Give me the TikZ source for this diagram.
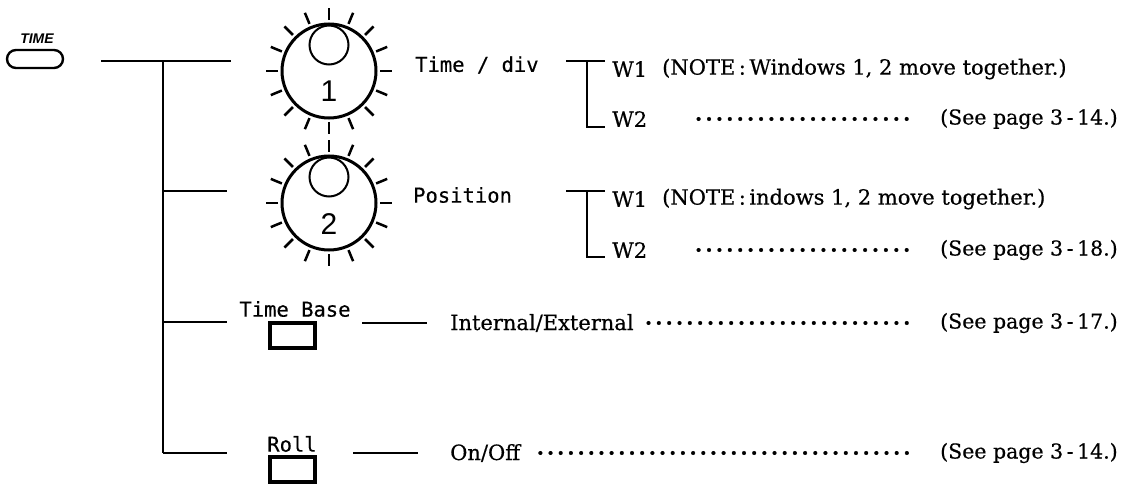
\documentclass[tikz,border=0pt]{standalone}
\usepackage{fontspec}
\setmainfont{DejaVu Serif}[FakeBold=0.5]
\newfontfamily\panelmono{DejaVu Sans Mono}[FakeBold=0.4]
\newfontfamily\panelsans{Liberation Sans}

% dotted leader of a given width
\newcommand{\leaderrow}[1]{\hbox to #1{\xleaders\hbox to 10pt{\hss\textbf{.}\hss}\hfill}}
% page reference with spaced dash
\newcommand{\seepage}[1]{(See page 3\kern3.5pt-\kern3.5pt#1.)}

\tikzset{
  wire/.style={line width=2pt},
  txt/.style={font=\fontsize{21}{24}\selectfont, inner sep=0pt, anchor=west},
  reftxt/.style={font=\fontsize{20.5}{24}\selectfont, inner sep=0pt, anchor=west},
  monotxt/.style={font=\panelmono\fontsize{20.5}{24}\selectfont, inner sep=0pt},
  digit/.style={font=\panelsans\fontsize{30}{32}\selectfont, inner sep=0pt},
  keycap/.style={draw, line width=3.2pt, minimum width=45pt, minimum height=25pt, inner sep=0pt},
  knob/.pic={
    \draw[line width=3pt] (0,0) circle[radius=47];
    \draw[line width=2pt] (0,-26) circle[radius=19.5];
    \foreach \a in {0,22.5,...,337.5}
      \draw[line width=2.5pt] (\a:51) -- (\a:63);
  }
}

\begin{document}
\begin{tikzpicture}[x=1pt,y=-1pt]
\useasboundingbox (0,0) rectangle (1122,484);

% TIME key
\node[font=\panelsans\bfseries\itshape\fontsize{14}{14}\selectfont, inner sep=0pt] (timelbl) at (37,39) {TIME};
\node[draw, rounded corners=9pt, line width=2.4pt, minimum width=56pt, minimum height=18pt, inner sep=0pt] (timekey) at (35,59) {};

% main trunk and branches
\coordinate (feed) at (101,61);
\coordinate (t1) at (163,61);
\coordinate (t2) at (163,191);
\coordinate (t3) at (163,322);
\coordinate (t4) at (163,453);
\coordinate (b1) at (231,61);
\coordinate (b2) at (227,191);
\coordinate (b3) at (227,322);
\coordinate (b4) at (227,453);
\draw[wire] (feed) -- (b1);
\draw[wire] (t1) -- (t4);
\draw[wire] (t2) -- (b2);
\draw[wire] (t3) -- (b3);
\draw[wire] (t4) -- (b4);

% knob 1
\coordinate (k1) at (329,71);
\pic at (k1) {knob};
\node[digit] (k1num) at (329,91) {1};
\node[monotxt, anchor=west] (tdiv) at (415,65) {Time / div};

\coordinate (br1a) at (566,61);
\coordinate (br1b) at (605,61);
\coordinate (br1v) at (587,61);
\coordinate (br1c) at (605,127);
\draw[wire] (br1a) -- (br1b);
\draw[wire] (br1v) |- (br1c);
\node[txt] (w11) at (612,69) {W1};
\node[txt] (n1) at (662,69) {(NOTE\,:\,Windows 1, 2 move together.)};
\node[txt] (w12) at (612,119) {W2};
\node[txt] (d1) at (693,119) {\leaderrow{219pt}};
\node[reftxt] (p1) at (940,119) {\seepage{14}};

% knob 2
\coordinate (k2) at (329,203);
\pic at (k2) {knob};
\node[digit] (k2num) at (329,224) {2};
\node[monotxt, anchor=west] (pos) at (413,195) {Position};

\coordinate (br2a) at (566,191);
\coordinate (br2b) at (605,191);
\coordinate (br2v) at (587,191);
\coordinate (br2c) at (605,257);
\draw[wire] (br2a) -- (br2b);
\draw[wire] (br2v) |- (br2c);
\node[txt] (w21) at (612,199) {W1};
\node[txt] (n2) at (662,199) {(NOTE\,:\,indows 1, 2 move together.)};
\node[txt] (w22) at (612,250) {W2};
\node[txt] (d2) at (693,250) {\leaderrow{219pt}};
\node[reftxt] (p2) at (940,250) {\seepage{18}};

% Time Base key
\node[monotxt] (tblbl) at (295,309) {Time Base};
\node[keycap] (tbkey) at (292.5,335.5) {};
\coordinate (tbl) at (362,323);
\coordinate (tbr) at (427,323);
\draw[wire] (tbl) -- (tbr);
\node[txt] (ie) at (450,323) {Internal/External};
\node[txt] (d3) at (643,323) {\leaderrow{269pt}};
\node[reftxt] (p3) at (940,323) {\seepage{17}};

% Roll key
\node[monotxt] (rolllbl) at (292,444) {Roll};
\node[keycap] (rollkey) at (292.5,469.5) {};
\coordinate (rl) at (353,453);
\coordinate (rr) at (418,453);
\draw[wire] (rl) -- (rr);
\node[txt] (oo) at (450,453) {On/Off};
\node[txt] (d4) at (535,453) {\leaderrow{377pt}};
\node[reftxt] (p4) at (940,453) {\seepage{14}};
\end{tikzpicture}
\end{document}
